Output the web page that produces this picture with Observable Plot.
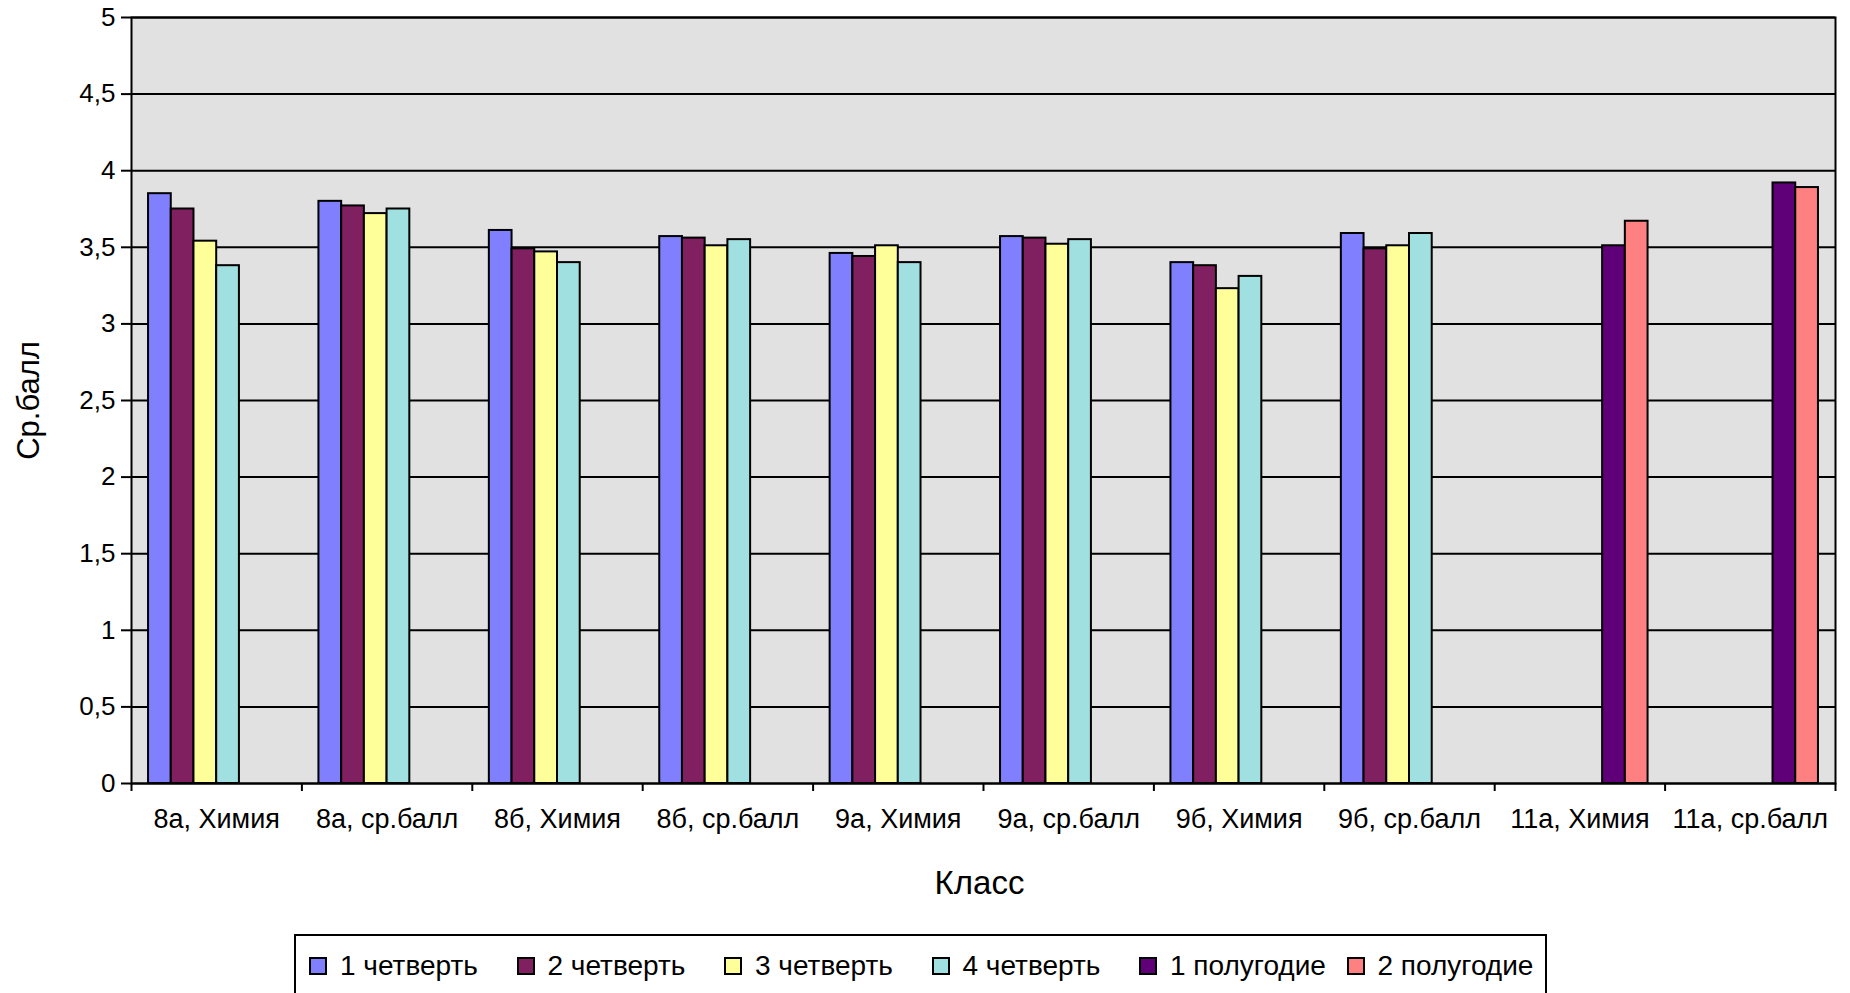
<!DOCTYPE html>
<html>
<head>
<meta charset="utf-8">
<script src="https://cdn.jsdelivr.net/npm/d3@7"></script>
<script src="https://cdn.jsdelivr.net/npm/@observablehq/plot@0.6"></script>
<style>
  html, body { margin: 0; padding: 0; background: #fff; overflow: hidden; }
  body { width: 1850px; height: 993px; position: relative; font-family: "Liberation Sans", Arial, sans-serif; }
  #chart svg { display: block; }
  #legend {
    position: absolute; left: 294px; top: 934px; width: 1253px; height: 62px;
    border: 2px solid #000; box-sizing: border-box; display: flex; align-items: center;
    padding-left: 13px; padding-top: 2px;
  }
  .item { display: flex; align-items: center; width: 207.5px; font-size: 28px; color: #000; white-space: nowrap; flex: none; }
  .sw { width: 14px; height: 14px; border: 2px solid #000; margin-right: 13px; flex: none; }
</style>
</head>
<body>
<div id="chart"></div>
<div id="legend"></div>
<script>
const categories = ["8а, Химия", "8а, ср.балл", "8б, Химия", "8б, ср.балл", "9а, Химия", "9а, ср.балл", "9б, Химия", "9б, ср.балл", "11а, Химия", "11а, ср.балл"];
const seriesNames = ["1 четверть", "2 четверть", "3 четверть", "4 четверть", "1 полугодие", "2 полугодие"];
const seriesColors = ["#8080ff", "#802060", "#ffff99", "#a0e0e0", "#600078", "#ff8080"];
const q1 = [3.85, 3.80, 3.61, 3.57, 3.46, 3.57, 3.40, 3.59, null, null];
const q2 = [3.75, 3.77, 3.49, 3.56, 3.44, 3.56, 3.38, 3.49, null, null];
const q3 = [3.54, 3.72, 3.47, 3.51, 3.51, 3.52, 3.23, 3.51, null, null];
const q4 = [3.38, 3.75, 3.40, 3.55, 3.40, 3.55, 3.31, 3.59, null, null];
const h1 = [null, null, null, null, null, null, null, null, 3.51, 3.92];
const h2 = [null, null, null, null, null, null, null, null, 3.67, 3.89];
const yTicks = [0, 0.5, 1, 1.5, 2, 2.5, 3, 3.5, 4, 4.5, 5];

const seriesValues = [q1, q2, q3, q4, h1, h2];
const slots = seriesNames.length + 1.5; // 6 bars + gap (150%)
const rows = [];
seriesValues.forEach((vals, si) => {
  vals.forEach((v, ci) => {
    if (v != null) rows.push({category: categories[ci], ci, series: seriesNames[si], si, value: v});
  });
});

const chart = Plot.plot({
  width: 1850,
  height: 930,
  marginLeft: 131,
  marginRight: 15,
  marginTop: 17,
  marginBottom: 147,
  style: {fontFamily: "'Liberation Sans', Arial, sans-serif", color: "#000", background: "#fff"},
  x: {domain: [0, categories.length], axis: null},
  y: {domain: [0, 5], axis: null},
  color: {domain: seriesNames, range: seriesColors},
  marks: [
    Plot.frame({fill: "#e1e1e1"}),
    Plot.gridY(yTicks, {stroke: "#000", strokeOpacity: 1, strokeWidth: 2}),
    Plot.rectY(rows, {
      x1: d => d.ci + (0.75 + d.si) / slots,
      x2: d => d.ci + (1.75 + d.si) / slots,
      y: "value",
      fill: "series",
      stroke: "#000",
      strokeWidth: 2
    }),
    Plot.frame({stroke: "#000", strokeWidth: 2}),
    Plot.axisY(yTicks, {
      tickSize: 10, tickPadding: 6, strokeWidth: 2, stroke: "#000",
      fontSize: 26, label: null,
      tickFormat: d => String(d).replace(".", ",")
    }),
    Plot.axisX(d3.range(0, categories.length + 1), {
      tickSize: 8, strokeWidth: 2, stroke: "#000", tickFormat: () => "", label: null
    }),
    Plot.axisX(categories.map((c, i) => i + 0.5), {
      tickSize: 0, tickPadding: 25, fontSize: 27, label: null,
      tickFormat: d => categories[Math.floor(d)]
    }),
    Plot.text(["Класс"], {text: d => d, frameAnchor: "bottom", dy: 100, dx: -4, fontSize: 33, lineAnchor: "middle", textAnchor: "middle", fill: "#000"}),
    Plot.text(["Ср.балл"], {text: d => d, frameAnchor: "left", dx: -102, rotate: -90, fontSize: 31, lineAnchor: "middle", textAnchor: "middle", fill: "#000"})
  ]
});
document.getElementById("chart").appendChild(chart);

const legend = document.getElementById("legend");
seriesNames.forEach((name, i) => {
  const item = document.createElement("div");
  item.className = "item";
  const sw = document.createElement("span");
  sw.className = "sw";
  sw.style.background = seriesColors[i];
  item.appendChild(sw);
  item.appendChild(document.createTextNode(name));
  legend.appendChild(item);
});
</script>
</body>
</html>
